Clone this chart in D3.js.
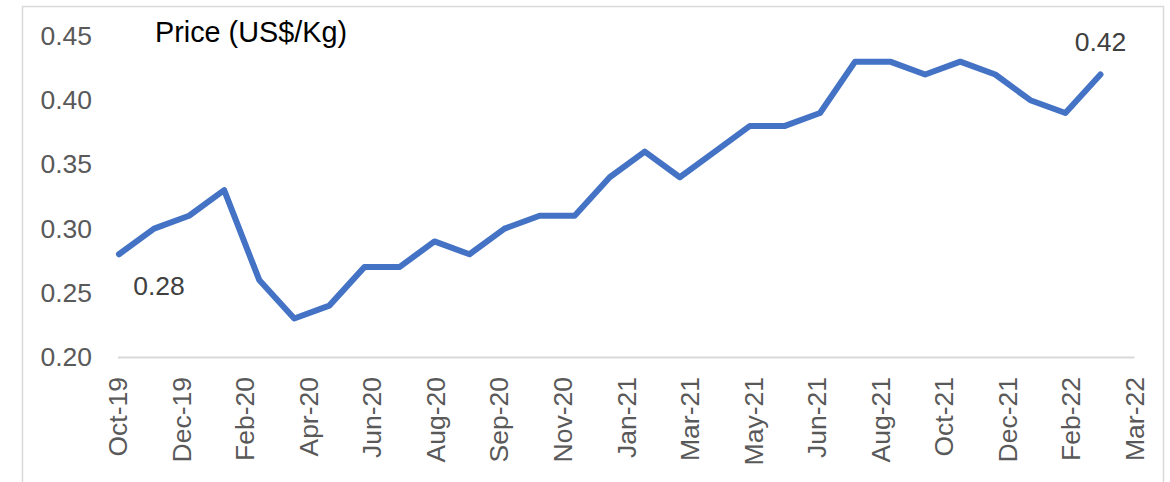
<!DOCTYPE html>
<html>
<head>
<meta charset="utf-8">
<script src="https://cdn.jsdelivr.net/npm/d3@7"></script>
<style>
  html, body { margin: 0; padding: 0; background: #fff; }
  svg { display: block; font-family: "Liberation Sans", Arial, sans-serif; }
</style>
</head>
<body>
<svg id="chart" width="1170" height="482"></svg>
<script>
// ---- data ----
const months = ["Oct-19","Nov-19","Dec-19","Jan-20","Feb-20","Mar-20","Apr-20","May-20","Jun-20","Jul-20",
                "Aug-20","Sep-20","Oct-20","Nov-20","Dec-20","Jan-21","Feb-21","Mar-21","Apr-21","May-21",
                "Jun-21","Jul-21","Aug-21","Sep-21","Oct-21","Nov-21","Dec-21","Jan-22","Feb-22"];
const prices = [0.28,0.30,0.31,0.33,0.26,0.23,0.24,0.27,0.27,0.29,
                0.28,0.30,0.31,0.31,0.34,0.36,0.34,0.36,0.38,0.38,
                0.39,0.43,0.43,0.42,0.43,0.42,0.40,0.39,0.42];
const xTickLabels = ["Oct-19","Dec-19","Feb-20","Apr-20","Jun-20","Aug-20","Sep-20","Nov-20","Jan-21",
                     "Mar-21","May-21","Jun-21","Aug-21","Oct-21","Dec-21","Feb-22","Mar-22"];
const yTicks = [0.20,0.25,0.30,0.35,0.40,0.45];
const chartTitle = "Price (US$/Kg)";
const labelledIdx = [0, prices.length - 1];

// ---- layout ----
const svg = d3.select("#chart");
const plotLeft = 119, plotRight = 1135.5, plotTop = 36, plotBottom = 357;

svg.append("rect")
  .attr("x", 22.5).attr("y", 6.5).attr("width", 1141).attr("height", 490)
  .attr("fill", "#fff").attr("stroke", "#d9d9d9").attr("stroke-width", 1.5);

const x = d3.scaleLinear().domain([0, months.length]).range([plotLeft, plotRight]);
const y = d3.scaleLinear().domain([0.20, 0.45]).range([plotBottom, plotTop]);
const xLab = d3.scalePoint().domain(xTickLabels).range([117.5, 1134]);

// x axis line + labels
const gx = svg.append("g").attr("transform", `translate(0,${plotBottom})`)
  .call(d3.axisBottom(xLab).tickSize(0).tickSizeOuter(0));
gx.select(".domain").attr("stroke", "#d9d9d9").attr("stroke-width", 2);
gx.selectAll("text")
  .attr("transform", "rotate(-90)")
  .attr("text-anchor", "end")
  .attr("x", -20).attr("y", 0).attr("dy", "0.35em")
  .attr("fill", "#595959")
  .style("font-size", "26.5px")
  .style("font-family", "'Liberation Sans', Arial, sans-serif");

// y axis labels
const gy = svg.append("g").attr("transform", "translate(92,0)")
  .call(d3.axisLeft(y).tickValues(yTicks).tickFormat(d3.format(".2f")).tickSize(0).tickPadding(0));
gy.select(".domain").remove();
gy.selectAll("text")
  .attr("fill", "#595959")
  .style("font-size", "26.5px")
  .style("font-family", "'Liberation Sans', Arial, sans-serif");

// title
svg.append("text")
  .attr("x", 155).attr("y", 42)
  .attr("fill", "#000")
  .style("font-size", "28.8px")
  .text(chartTitle);

// line
const line = d3.line().x((d, i) => x(i)).y(d => y(d));
svg.append("path")
  .datum(prices)
  .attr("d", line)
  .attr("fill", "none")
  .attr("stroke", "#4472C4")
  .attr("stroke-width", 6)
  .attr("stroke-linejoin", "round")
  .attr("stroke-linecap", "round");

// data labels
const labelOffsets = { 0: [40, 41], [prices.length - 1]: [0, -24] };
labelledIdx.forEach(i => {
  svg.append("text")
    .attr("x", x(i) + labelOffsets[i][0])
    .attr("y", y(prices[i]) + labelOffsets[i][1])
    .attr("text-anchor", "middle")
    .attr("fill", "#404040")
    .style("font-size", "26.5px")
    .text(d3.format(".2f")(prices[i]));
});
</script>
</body>
</html>
